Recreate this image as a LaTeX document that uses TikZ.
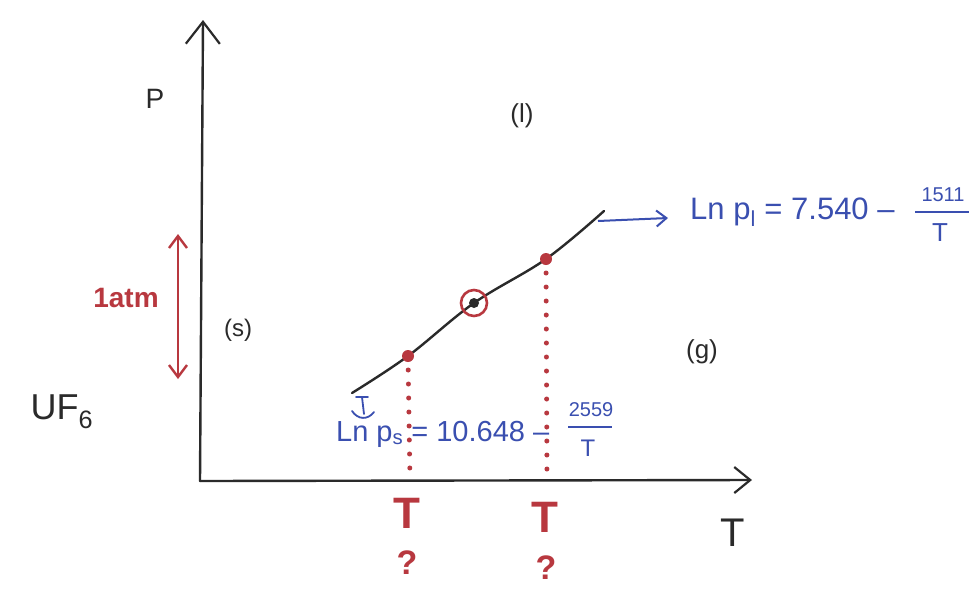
\documentclass[tikz,border=0pt]{standalone}
\usepackage{fontspec}
\setmainfont{Liberation Sans}
\usetikzlibrary{arrows.meta}
\definecolor{hred}{HTML}{B8383F}
\definecolor{hblue}{HTML}{3A4FB0}
\definecolor{hblack}{HTML}{2A2A2A}
\tikzset{
  axis/.style={hblack, line width=2.4pt, line cap=round, -{Straight Barb[length=22pt,width=34pt,line width=2.2pt]}},
  curveln/.style={hblack, line width=2.4pt, line cap=round},
  reddots/.style={hred, line width=5pt, line cap=round, dash pattern=on 0pt off 14pt},
  lbl/.style={inner sep=0pt, text=hblack},
  redlbl/.style={inner sep=0pt, text=hred, font=\bfseries},
  bluelbl/.style={inner sep=0pt, text=hblue},
}
\begin{document}
\begin{tikzpicture}[x=1pt,y=-1pt]
\useasboundingbox (0,0) rectangle (977,606);
\fill[white] (0,0) rectangle (977,606);
% axes
\coordinate (O) at (200,481);
\coordinate (Ytop) at (203,20);
\coordinate (Xend) at (752,480);
\draw[axis] (O) -- (Ytop);
\draw[axis, -{Straight Barb[length=16pt,width=26pt,line width=2.2pt]}] (O) -- (Xend);
% axis labels
\node[lbl, font=\fontsize{28}{30}\selectfont] (P) at (155,99) {P};
\node[lbl, font=\fontsize{40}{42}\selectfont] (Tax) at (733,533) {T};
% phase labels
\node[lbl, font=\fontsize{26}{28}\selectfont] (liq) at (522,116) {(l)};
\node[lbl, font=\fontsize{24}{26}\selectfont] (sol) at (238,330) {(s)};
\node[lbl, font=\fontsize{26}{28}\selectfont] (gas) at (702,352) {(g)};
\node[lbl, font=\fontsize{36}{38}\selectfont] (uf) at (62,412) {UF\textsubscript{6}};
% coexistence curve
\coordinate (c0) at (352,393);
\coordinate (c1) at (408,356);
\coordinate (tp) at (474,303);
\coordinate (c2) at (546,259);
\coordinate (c3) at (604,211);
\draw[curveln] plot[smooth, tension=0.6] coordinates {(352,393) (408,356) (474,303) (546,259) (604,211)};
% dotted red lines
\coordinate (b1) at (410,481);
\coordinate (b2) at (547,481);
\draw[reddots] (c1) -- (b1);
\draw[reddots] (c2) -- (b2);
\fill[hred] (c1) circle (6);
\fill[hred] (c2) circle (6);
\draw[hred, line width=2.6pt] (tp) circle (13);
\fill[hblack] (tp) circle (5);
% red T ? labels
\node[redlbl, font=\fontsize{44}{46}\selectfont\bfseries] (T1) at (407,513) {T};
\node[redlbl, font=\fontsize{34}{36}\selectfont\bfseries] (q1) at (407,563) {?};
\node[redlbl, font=\fontsize{44}{46}\selectfont\bfseries] (T2) at (545,517) {T};
\node[redlbl, font=\fontsize{34}{36}\selectfont\bfseries] (q2) at (546,568) {?};
% 1 atm
\coordinate (a1) at (178,234);
\coordinate (a2) at (178,379);
\draw[hred, line width=2.6pt, {Straight Barb[length=12pt,width=18pt,line width=2.4pt]}-{Straight Barb[length=12pt,width=18pt,line width=2.4pt]}] (a1) -- (a2);
\node[redlbl, font=\fontsize{28}{30}\selectfont\bfseries] (atm) at (126,298) {1atm};
% liquid equation
\coordinate (e1) at (598,221);
\coordinate (e2) at (668,218);
\draw[hblue, line width=2pt, -{Straight Barb[length=10pt,width=16pt,line width=2pt]}] (e1) -- (e2);
\node[bluelbl, anchor=west, font=\fontsize{31}{33}\selectfont] (eql) at (690,212) {Ln p\textsubscript{l} = 7.540 \textendash};
\node[bluelbl, font=\fontsize{20}{22}\selectfont] (numl) at (943,195) {1511};
\draw[hblue, line width=1.8pt] (915,212) -- (969,212);
\node[bluelbl, font=\fontsize{26}{28}\selectfont] (denl) at (940,233) {T};
% solid equation
\coordinate (k0) at (362,397);
\coordinate (k1) at (364,414);
\draw[hblue, line width=1.8pt, line cap=round] (356,397) -- (368,397);
\draw[hblue, line width=1.8pt, line cap=round] (k0) -- (k1);
\draw[hblue, line width=1.8pt, line cap=round] (352,411) .. controls (358,420) and (368,420) .. (374,412);
\node[bluelbl, anchor=west, font=\fontsize{29}{31}\selectfont] (eqs) at (336,434) {Ln p\textsubscript{s} = 10.648 \textendash};
\node[bluelbl, font=\fontsize{20}{22}\selectfont] (nums) at (591,410) {2559};
\draw[hblue, line width=1.8pt] (568,427) -- (612,427);
\node[bluelbl, font=\fontsize{24}{26}\selectfont] (dens) at (588,448) {T};
\end{tikzpicture}
\end{document}
